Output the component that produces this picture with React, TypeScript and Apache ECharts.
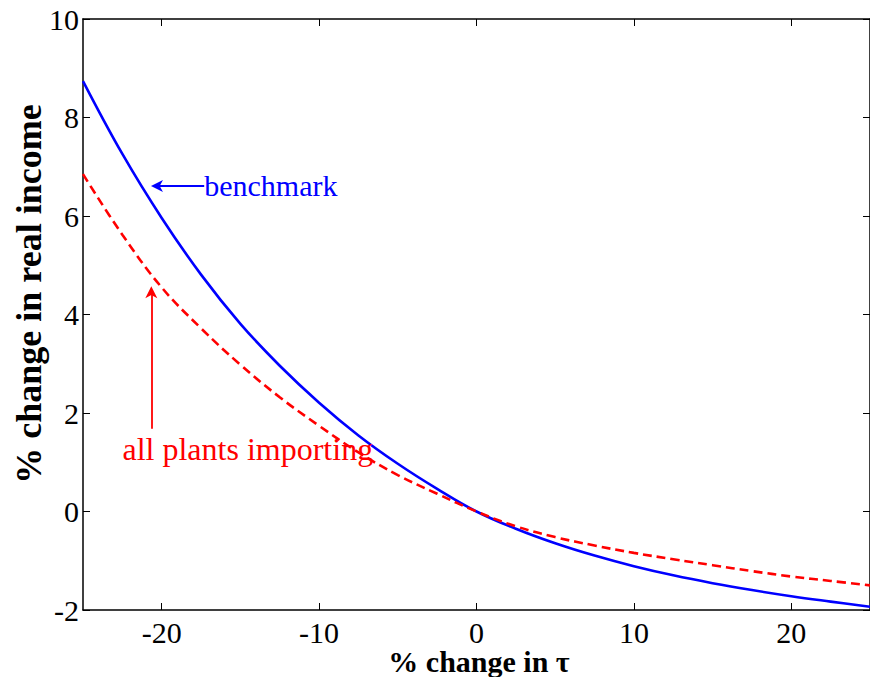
import React, { useEffect, useRef } from "react";
import * as echarts from "echarts";

// x: % change in tau
const X_VALUES = [-25, -22.5, -20, -17.5, -15, -12.5, -10, -7.5, -5, -2.5, 0, 2.5, 5, 7.5, 10, 12.5, 15, 17.5, 20, 22.5, 25];
// % change in real income, benchmark
const BENCHMARK = [8.74, 7.26, 5.96, 4.81, 3.81, 2.96, 2.21, 1.545, 0.97, 0.46, 0, -0.35, -0.645, -0.895, -1.11, -1.295, -1.455, -1.595, -1.72, -1.83, -1.935];
// % change in real income, all plants importing
const ALL_PLANTS = [6.85, 5.62, 4.55, 3.72, 2.98, 2.32, 1.74, 1.2, 0.74, 0.36, 0, -0.3, -0.52, -0.69, -0.84, -0.97, -1.09, -1.21, -1.32, -1.41, -1.5];

const X_TICKS = [-20, -10, 0, 10, 20];
const Y_TICKS = [-2, 0, 2, 4, 6, 8, 10];

// annotation anchors (data coordinates)
const BENCH_ARROW = [[-17.3, 6.61], [-20.3, 6.61]];
const PLANTS_ARROW = [[-20.66, 1.68], [-20.66, 4.45]];
const BENCH_LABEL = [-17.3, 6.61];
const PLANTS_LABEL = [-14.53, 1.27];

const FONT = "'Liberation Serif', 'Times New Roman', serif";
const ARROW_HEAD = "path://M5,0 L10,11 L5,8 L0,11 Z";

export default function App() {
  const ref = useRef<HTMLDivElement>(null);
  useEffect(() => {
    if (!ref.current) return;
    const chart = echarts.init(ref.current, undefined, { renderer: "svg" });
    const axisLine = { show: true, onZero: false, lineStyle: { color: "#000", width: 1.5 } };
    const tick = { show: true, inside: true, length: 7, lineStyle: { color: "#000", width: 1 } };
    const labelStyle = { fontFamily: FONT, fontSize: 30, color: "#000" };
    chart.setOption({
      animation: false,
      backgroundColor: "#fff",
      grid: { left: 83, right: -4, top: 19, bottom: 67, containLabel: false },
      xAxis: [
        {
          type: "value", min: -25, max: 25, position: "bottom",
          axisLine, splitLine: { show: false },
          axisTick: { ...tick, customValues: X_TICKS },
          axisLabel: { ...labelStyle, margin: 9, lineHeight: 26, customValues: X_TICKS },
        },
        {
          type: "value", min: -25, max: 25, position: "top",
          axisLine, splitLine: { show: false },
          axisTick: { ...tick, customValues: X_TICKS },
          axisLabel: { show: false },
        },
      ],
      yAxis: [
        {
          type: "value", min: -2, max: 10, interval: 2, position: "left",
          axisLine, splitLine: { show: false },
          axisTick: { ...tick, customValues: Y_TICKS },
          axisLabel: { ...labelStyle, margin: 4, customValues: Y_TICKS },
        },
        {
          type: "value", min: -2, max: 10, interval: 2, position: "right",
          axisLine, splitLine: { show: false },
          axisTick: { ...tick, customValues: Y_TICKS },
          axisLabel: { show: false },
        },
      ],
      series: [
        {
          name: "benchmark", type: "line", smooth: 0.4, showSymbol: false,
          data: X_VALUES.map((x, i) => [x, BENCHMARK[i]]),
          lineStyle: { color: "#0000ff", width: 2.6 },
          markLine: {
            silent: true, symbol: ["none", ARROW_HEAD], symbolSize: 12,
            lineStyle: { color: "#0000ff", width: 1.8, type: "solid" },
            label: { show: false },
            data: [[{ coord: BENCH_ARROW[0] }, { coord: BENCH_ARROW[1] }]],
          },
          markPoint: {
            silent: true, symbol: "circle", symbolSize: 0,
            label: { show: true, position: "right", distance: 0, formatter: "benchmark", fontFamily: FONT, fontSize: 30, color: "#0000ff" },
            data: [{ coord: BENCH_LABEL }],
          },
        },
        {
          name: "all plants importing", type: "line", smooth: 0.4, showSymbol: false,
          data: X_VALUES.map((x, i) => [x, ALL_PLANTS[i]]),
          lineStyle: { color: "#ff0000", width: 2.6, type: [9, 5] },
          markLine: {
            silent: true, symbol: ["none", ARROW_HEAD], symbolSize: 12,
            lineStyle: { color: "#ff0000", width: 1.8, type: "solid" },
            label: { show: false },
            data: [[{ coord: PLANTS_ARROW[0] }, { coord: PLANTS_ARROW[1] }]],
          },
          markPoint: {
            silent: true, symbol: "circle", symbolSize: 0,
            label: { show: true, position: "inside", formatter: "all plants importing", fontFamily: FONT, fontSize: 32, color: "#ff0000" },
            data: [{ coord: PLANTS_LABEL }],
          },
        },
      ],
      graphic: [
        {
          type: "text", x: 479, y: 661,
          style: { text: "% change in τ", fontFamily: FONT, fontSize: 30, fontWeight: "bold", fill: "#000", align: "center", verticalAlign: "middle" },
        },
        {
          type: "text", x: 29, y: 294, rotation: Math.PI / 2,
          style: { text: "% change in real income", fontFamily: FONT, fontSize: 36, fontWeight: "bold", fill: "#000", align: "center", verticalAlign: "middle" },
        },
      ],
    });
    return () => chart.dispose();
  }, []);
  return <div ref={ref} style={{ position: "absolute", left: 0, top: 0, width: 870, height: 677, background: "#fff" }} />;
}
